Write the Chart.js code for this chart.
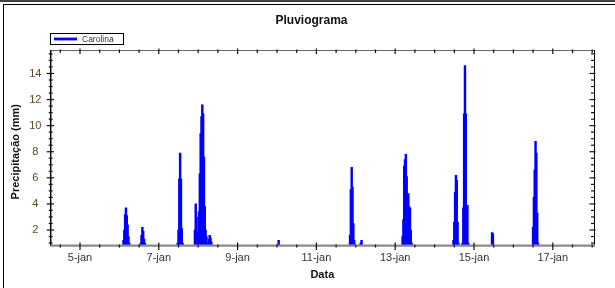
<!DOCTYPE html>
<html>
<head>
<meta charset="utf-8">
<script src="https://cdn.jsdelivr.net/npm/chart.js@4.4.0/dist/chart.umd.min.js"></script>
<style>
html,body{margin:0;padding:0;background:#fff;}
#c{display:block;}
</style>
</head>
<body>
<canvas id="c" width="615" height="288"></canvas>
<script>
// ---- data (hours since 04-jan 00:00, precipitation in mm) ----
const horas = [
  50.5, 51, 51.5, 52, 52.5, 53, 53.5, 54,
  61, 61.5, 62, 62.5, 63, 63.5,
  83.5, 84, 84.5, 85, 85.5, 86, 86.5,
  94, 94.5, 95, 95.5, 96, 96.5, 97, 97.5, 98, 98.5, 99, 99.5, 100, 100.5, 101, 101.5, 102.5, 103, 103.5, 104,
  144.5, 145,
  188.5, 189, 189.5, 190, 190.5, 191,
  195, 195.5,
  220.5, 221, 221.5, 222, 222.5, 223, 223.5, 224, 224.5, 225, 225.5, 226,
  251.5, 252, 252.5, 253, 253.5, 254, 254.5,
  257, 257.5, 258, 258.5, 259, 259.5, 260, 260.5,
  275, 275.5,
  300, 300.5, 301, 301.5, 302, 302.5, 303
];
const precipitacao = [
  1.2, 2.0, 3.2, 3.7, 3.1, 2.4, 1.5, 1.0,
  1.0, 1.6, 2.2, 1.9, 1.3, 1.0,
  1.0, 2.0, 5.9, 7.9, 5.9, 2.1, 1.0,
  2.0, 4.0, 3.0, 1.6, 1.8, 3.4, 6.3, 9.4, 10.7, 11.6, 10.9, 7.6, 3.8, 2.0, 1.5, 1.0, 1.3, 1.6, 1.4, 1.1,
  0.9, 1.2,
  1.6, 5.1, 6.8, 5.3, 2.5, 1.2,
  1.0, 1.2,
  1.5, 2.8, 6.9, 7.4, 7.8, 6.1, 3.5, 4.8, 3.8, 3.7, 2.0, 1.0,
  1.2, 2.6, 4.9, 6.2, 5.8, 2.6, 1.0,
  1.0, 3.7, 10.9, 14.6, 10.9, 3.9, 3.9, 1.0,
  1.8, 1.7,
  2.2, 4.5, 6.6, 8.8, 7.9, 3.3, 1.0
];
const horasRotulos = [24, 72, 120, 168, 216, 264, 312];
const rotulosData = ['5-jan', '7-jan', '9-jan', '11-jan', '13-jan', '15-jan', '17-jan'];
const rotulosY = [2, 4, 6, 8, 10, 12, 14];
const serieNome = 'Carolina';
const titulo = 'Pluviograma';
const tituloX = 'Data';
const tituloY = 'Precipitação (mm)';
const X_MIN = 6.15, X_MAX = 337.1, Y_MIN = 0.85, Y_MAX = 15.8;

const FONT = "'Liberation Sans', Arial, sans-serif";
Chart.defaults.font.family = FONT;

function seg(ctx, x1, y1, x2, y2) {
  ctx.beginPath(); ctx.moveTo(x1, y1); ctx.lineTo(x2, y2); ctx.stroke();
}

const decor = {
  id: 'decor',
  afterDraw(chart) {
    const ctx = chart.ctx, a = chart.chartArea;
    const xs = chart.scales.x, ys = chart.scales.y;
    ctx.save();
    // outer frame
    ctx.strokeStyle = '#000';
    ctx.lineWidth = 1.5; seg(ctx, 0, 1, 615, 1);
    ctx.lineWidth = 1; seg(ctx, 3, 4.5, 615, 4.5); seg(ctx, 3.5, 4.5, 3.5, 288);
    // top axis line
    ctx.strokeStyle = '#666'; ctx.lineWidth = 1;
    seg(ctx, a.left, a.top + 0.5, a.right, a.top + 0.5);
    // right axis line
    ctx.strokeStyle = '#000';
    seg(ctx, a.right + 0.5, a.top, a.right + 0.5, a.bottom);
    // left axis line
    ctx.lineWidth = 1.5;
    seg(ctx, a.left, a.top, a.left, a.bottom + 1);
    // bottom axis line (gray)
    ctx.strokeStyle = '#8a8a8a'; ctx.lineWidth = 2.4;
    seg(ctx, a.left, a.bottom + 0.6, a.right + 1, a.bottom + 0.6);
    // x ticks every 12 h
    ctx.strokeStyle = '#111'; ctx.lineWidth = 1.2;
    for (let h = 12; h <= X_MAX; h += 12) {
      const px = xs.getPixelForValue(h);
      const major = horasRotulos.includes(h);
      if (major) {
        seg(ctx, px, a.bottom - 2.5, px, a.bottom + 5);
        seg(ctx, px, a.top - 1.5, px, a.top + 4);
      } else {
        seg(ctx, px, a.bottom - 0.5, px, a.bottom + 2.5);
        seg(ctx, px, a.top - 0.5, px, a.top + 3);
      }
    }
    // y ticks every 0.5
    for (let v = 1; v <= Y_MAX; v += 0.5) {
      const py = ys.getPixelForValue(v);
      const major = rotulosY.includes(v);
      if (major) {
        seg(ctx, a.left - 4, py, a.left + 3.3, py);
        seg(ctx, a.right - 4.5, py, a.right + 1.5, py);
      } else {
        seg(ctx, a.left - 2, py, a.left + 2, py);
        seg(ctx, a.right - 3, py, a.right + 0.5, py);
      }
    }
    // legend box
    ctx.strokeStyle = '#000'; ctx.lineWidth = 1;
    ctx.strokeRect(50.5, 33.5, 73, 11);
    ctx.strokeStyle = '#9a9aff'; ctx.lineWidth = 1;
    seg(ctx, 54, 37.5, 77, 37.5); seg(ctx, 54, 40.5, 77, 40.5);
    ctx.strokeStyle = '#0000ff'; ctx.lineWidth = 2;
    seg(ctx, 54, 39, 77, 39);
    ctx.fillStyle = '#333'; ctx.font = '8.5px ' + FONT;
    ctx.textAlign = 'left'; ctx.textBaseline = 'middle';
    ctx.fillText(serieNome, 82, 39.5);
    // y axis title
    ctx.translate(16.2, 151.7); ctx.rotate(-Math.PI / 2);
    ctx.fillStyle = '#111'; ctx.font = 'bold 11px ' + FONT;
    ctx.textAlign = 'center'; ctx.textBaseline = 'middle';
    ctx.fillText(tituloY, 0, 0);
    ctx.restore();
  }
};

new Chart(document.getElementById('c'), {
  type: 'bar',
  data: {
    datasets: [{
      label: serieNome,
      data: horas.map((h, i) => ({ x: h, y: precipitacao[i] })),
      backgroundColor: '#0000ff',
      borderWidth: 0,
      barThickness: 1.8
    }]
  },
  options: {
    responsive: false,
    devicePixelRatio: 1,
    animation: false,
    layout: { padding: { left: 8, right: 0, top: 0, bottom: 0 } },
    plugins: {
      legend: { display: false },
      tooltip: { enabled: false },
      title: {
        display: true, text: titulo, color: '#111',
        font: { size: 12, weight: 'bold' },
        padding: { top: 13.3, bottom: 22.3 }
      }
    },
    scales: {
      x: {
        type: 'linear', position: 'bottom', min: X_MIN, max: X_MAX, offset: false,
        afterBuildTicks: s => { s.ticks = horasRotulos.map(v => ({ value: v })); },
        ticks: {
          autoSkip: false, maxRotation: 0, padding: 6.6, color: '#333',
          font: { size: 11 },
          callback: v => { const i = horasRotulos.indexOf(v); return i >= 0 ? rotulosData[i] : ''; }
        },
        grid: { display: false, drawTicks: false, offset: false },
        border: { display: false },
        title: { display: true, text: tituloX, color: '#111', font: { size: 11, weight: 'bold' }, padding: { top: 0, bottom: 6.4 } },
        afterFit: s => { s.height = 43; }
      },
      y: {
        type: 'linear', position: 'left', min: Y_MIN, max: Y_MAX,
        afterBuildTicks: s => { s.ticks = rotulosY.map(v => ({ value: v })); },
        ticks: { crossAlign: 'center', padding: 9.3, color: '#5e4a22', font: { size: 11 } },
        grid: { display: false, drawTicks: false },
        border: { display: false },
        afterFit: s => { s.width = 42.7; }
      },
      y2: {
        type: 'linear', position: 'right', min: Y_MIN, max: Y_MAX, display: true,
        ticks: { display: false },
        grid: { display: false, drawTicks: false },
        border: { display: false },
        afterFit: s => { s.width = 21; }
      }
    }
  },
  plugins: [decor]
});
</script>
</body>
</html>
